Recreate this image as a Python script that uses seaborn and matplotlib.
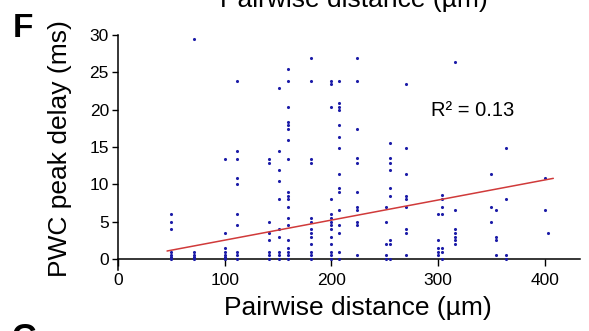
import numpy as np
import pandas as pd
import matplotlib
matplotlib.use("Agg")
import matplotlib.pyplot as plt
import seaborn as sns

# distance columns (um) and the delays (ms) stacked at each one
dist = [50, 71, 100, 112, 142, 151, 159, 181, 200, 207, 224, 251, 255, 270,
        300, 304, 316, 350, 354, 364, 400, 403]
delays = [
    [6.0, 5.0, 4.0, 1.0, 0.6, 0.3, 0.0],
    [29.4, 1.0, 0.6, 0.3, 0.0],
    [13.4, 3.5, 1.5, 1.0, 0.6, 0.3, 0.0],
    [23.9, 14.4, 13.4, 10.9, 10.0, 6.0, 4.5, 1.0, 0.5, 0.0],
    [13.4, 12.9, 5.0, 3.5, 2.5, 1.0, 0.5, 0.0],
    [22.9, 14.4, 11.9, 10.5, 8.0, 4.0, 3.0, 1.0, 0.5, 0.0],
    [25.4, 23.9, 20.4, 18.4, 17.9, 17.4, 15.9, 13.4, 9.0, 8.5, 8.0, 7.0,
     5.5, 4.5, 2.5, 1.5, 1.0, 0.5, 0.0],
    [26.9, 23.9, 13.4, 12.9, 5.5, 5.0, 4.0, 3.5, 3.0, 2.0, 1.0, 0.5, 0.0],
    [23.9, 23.4, 20.4, 8.0, 6.0, 5.5, 5.0, 4.5, 4.0, 3.0, 2.0, 1.0, 0.5, 0.0],
    [23.9, 20.9, 20.4, 19.9, 17.9, 16.4, 14.9, 11.4, 9.5, 9.0, 6.6, 4.5, 3.5,
     1.0, 0.0],
    [26.9, 23.9, 17.4, 13.5, 12.9, 9.0, 7.0, 6.6, 5.0, 4.5, 0.5],
    [7.0, 5.0, 2.0, 0.5, 0.0],
    [15.5, 13.5, 12.9, 11.9, 9.5, 8.5, 2.5, 2.0, 0.0],
    [23.4, 14.9, 11.4, 8.5, 8.0, 7.0, 4.0, 3.5, 0.5],
    [6.0, 2.5, 1.5, 1.0, 0.5],
    [8.6, 8.0, 7.0, 6.0, 1.5, 1.0, 0.0],
    [26.4, 6.6, 4.0, 3.5, 3.0, 2.5, 2.0],
    [11.4, 7.0, 5.0],
    [6.6, 3.0, 2.5, 0.5],
    [14.9, 8.0, 0.5, 0.0],
    [10.9, 6.6],
    [3.5],
]

# linear fit as drawn in the figure
fit_x = [46, 408]
fit_y = [1.07, 10.8]
r2_text = "R² = 0.13"

xticks = [0, 100, 200, 300, 400]
yticks = [0, 5, 10, 15, 20, 25, 30]

rows = [(d, v) for d, vs in zip(dist, delays) for v in vs]
df = pd.DataFrame(rows, columns=["distance", "delay"])

sns.set_style("ticks")
plt.rcParams["font.family"] = ["Liberation Sans", "DejaVu Sans"]
plt.rcParams["text.color"] = "black"
plt.rcParams["axes.labelcolor"] = "black"

fig = plt.figure(figsize=(5.89, 3.31), dpi=100)
ax = fig.add_axes([0.2003, 0.1837, 0.7844, 0.7106])

sns.scatterplot(data=df, x="distance", y="delay", ax=ax, s=5,
                color="#1c1ca8", linewidth=0, clip_on=False, zorder=3)
sns.lineplot(x=fit_x, y=fit_y, ax=ax, color="#d03a3a", linewidth=1.1, zorder=4)

ax.set_xlim(0, 433)
ax.set_ylim(-1.5, 30)
ax.set_xticks(xticks)
ax.set_yticks(yticks)
ax.spines["right"].set_visible(False)
ax.spines["top"].set_visible(False)
ax.spines["bottom"].set_position(("data", 0))
for s in ["left", "bottom"]:
    ax.spines[s].set_color("black")
    ax.spines[s].set_linewidth(1.1)
ax.tick_params(axis="x", length=5, width=1, pad=5, labelsize=12.5, colors="black")
ax.tick_params(axis="y", length=4.5, width=1, pad=2, labelsize=12.5, colors="black")

ax.set_xlabel("Pairwise distance (µm)", fontsize=19)
ax.xaxis.label.set_va("center")
ax.xaxis.set_label_coords((358 - 118) / 462, (270.2 - 308) / 235.2)
ax.set_ylabel("PWC peak delay (ms)", fontsize=19)
ax.yaxis.label.set_va("center")
ax.yaxis.set_label_coords((60 - 118) / 462, (270.2 - 149) / 235.2)

ax.text(473 / 589, 1 - 110 / 331, r2_text, transform=fig.transFigure,
        fontsize=14.5, ha="center", va="center")

# panel letters and the cut-off label of the panel above
fig.text(13 / 589, 1 - 37 / 331, "F", fontsize=24, fontweight="bold",
         ha="left", va="baseline")
fig.text(12 / 589, 1 - 347 / 331, "G", fontsize=24, fontweight="bold",
         ha="left", va="baseline")
fig.text(220 / 589, 1 - 7 / 331, "Pairwise distance (µm)", fontsize=19,
         ha="left", va="baseline")

fig.savefig("out.png", dpi=100)
